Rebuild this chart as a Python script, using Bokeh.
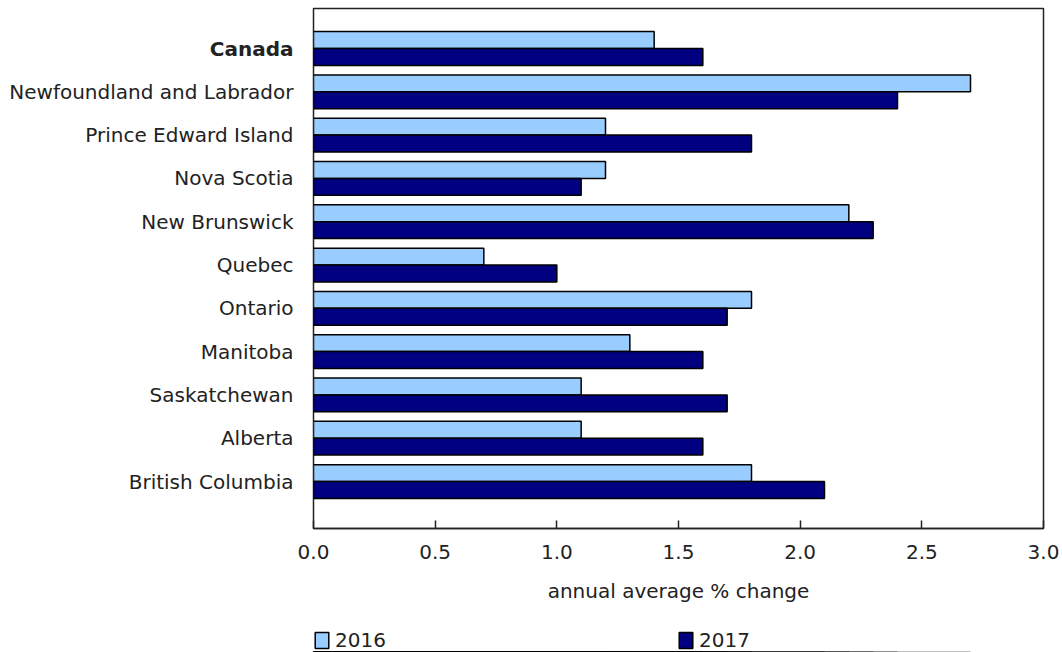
from bokeh.plotting import figure
from bokeh.layouts import column
from bokeh.models import (ColumnDataSource, FixedTicker, Range1d, LinearAxis, Legend, LegendItem)
from bokeh.transform import dodge
from bokeh.embed import file_html
from bokeh.resources import INLINE

regions = ["Canada", "Newfoundland and Labrador", "Prince Edward Island", "Nova Scotia",
           "New Brunswick", "Quebec", "Ontario", "Manitoba", "Saskatchewan", "Alberta",
           "British Columbia"]
v2016 = [1.4, 2.7, 1.2, 1.2, 2.2, 0.7, 1.8, 1.3, 1.1, 1.1, 1.8]
v2017 = [1.6, 2.4, 1.8, 1.1, 2.3, 1.0, 1.7, 1.6, 1.7, 1.6, 2.1]
x_ticks = [0.0, 0.5, 1.0, 1.5, 2.0, 2.5, 3.0]
series_names = ["2016", "2017"]

FONT = "DejaVu Sans"
FS = "20px"
C16 = "#99CCFF"
C17 = "#000080"
TXT = "#222222"

pos = list(range(len(regions)))
src = ColumnDataSource(dict(y=pos, name=regions, a=v2016, b=v2017))

p = figure(frame_width=730, frame_height=520, output_backend="svg", toolbar_location=None,
           x_range=Range1d(0, 3.0), y_range=Range1d(len(regions) - 1 + 1.085, -0.924),
           y_axis_location=None,
           min_border_left=313, min_border_right=19, min_border_top=8, min_border_bottom=100)

bh = 0.39
bar_styles = [dict(col="a", shift=-bh / 2, fill=C16), dict(col="b", shift=bh / 2, fill=C17)]
for s in bar_styles:
    p.hbar(y=dodge("y", s["shift"]), right=s["col"], left=0, height=bh, source=src,
           fill_color=s["fill"], line_color="black", line_width=1.5)

p.xgrid.visible = False
p.ygrid.visible = False
p.outline_line_color = TXT
p.outline_line_width = 1.5
p.background_fill_color = "white"
p.border_fill_color = "white"

xa = p.xaxis[0]
xa.ticker = FixedTicker(ticks=x_ticks)
xa.major_label_overrides = {t: f"{t:.1f}" for t in x_ticks}
xa.major_tick_in = 8
xa.major_tick_out = 0
xa.minor_tick_line_color = None
xa.axis_line_color = TXT
xa.axis_line_width = 1.5
xa.major_tick_line_color = TXT
xa.major_tick_line_width = 1.5
xa.major_label_text_font = FONT
xa.major_label_text_font_size = FS
xa.major_label_text_color = TXT
xa.major_label_standoff = 16
xa.axis_label = "annual average % change"
xa.axis_label_text_font = FONT
xa.axis_label_text_font_size = FS
xa.axis_label_text_font_style = "normal"
xa.axis_label_text_color = TXT
xa.axis_label_standoff = 17


def style_yaxis(ax, overrides, bold, standoff):
    ax.ticker = FixedTicker(ticks=pos)
    ax.major_label_overrides = overrides
    ax.major_tick_line_color = None
    ax.minor_tick_line_color = None
    ax.axis_line_color = None
    ax.major_label_text_font = FONT
    ax.major_label_text_font_size = FS
    ax.major_label_text_font_style = "bold" if bold else "normal"
    ax.major_label_text_color = TXT
    ax.major_label_standoff = standoff


# inner axis: bold national total only
inner = LinearAxis()
style_yaxis(inner, {i: (n if i == 0 else "") for i, n in enumerate(regions)}, True, 14)
p.add_layout(inner, "left")

# outer axis: provinces, pulled back over the inner axis
outer = LinearAxis()
style_yaxis(outer, {i: ("" if i == 0 else n) for i, n in enumerate(regions)}, False, -93)
p.add_layout(outer, "left")

# legend strip below the chart (its bars lie outside its own vertical view)
lg = figure(frame_width=730, frame_height=24, output_backend="svg", toolbar_location=None,
            x_range=Range1d(0, 3.0), y_range=Range1d(100, 101),
            x_axis_location=None, y_axis_location=None,
            min_border_left=313, min_border_right=19, min_border_top=0, min_border_bottom=0)
lg.outline_line_color = None
lg.xgrid.visible = False
lg.ygrid.visible = False
lg_r = [lg.hbar(y=dodge("y", s["shift"]), right=s["col"], left=0, height=bh, source=src,
                fill_color=s["fill"], line_color="black", line_width=1.5)
        for s in bar_styles]

legend = Legend(items=[LegendItem(label=n, renderers=[r]) for n, r in zip(series_names, lg_r)],
                orientation="horizontal", location="top_left", margin=0, padding=0,
                spacing=0, glyph_width=17, glyph_height=20, label_standoff=5,
                label_width=342, label_height=20, border_line_color=None,
                background_fill_alpha=0,
                label_text_font=FONT, label_text_font_size=FS, label_text_color=TXT)
lg.add_layout(legend)

layout = column(p, lg, spacing=0)
open("out.html", "w").write(file_html(layout, INLINE))
